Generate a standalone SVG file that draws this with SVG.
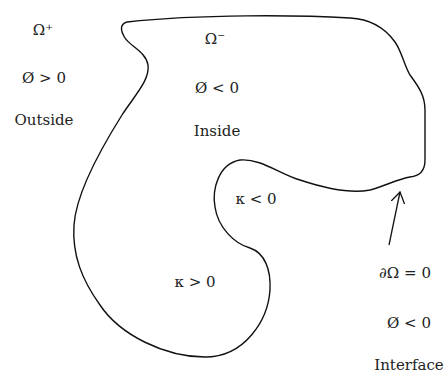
<svg xmlns="http://www.w3.org/2000/svg" width="446" height="374" viewBox="0 0 446 374">
<style>
.t{font-family:"DejaVu Serif","Liberation Serif",serif;font-size:15px;fill:#222;text-anchor:middle}
.o{fill:none;stroke:#111;stroke-width:1.4;stroke-linejoin:round}
</style>
<defs>
<marker id="ah" viewBox="0 0 12 14" refX="11" refY="7" markerWidth="12" markerHeight="14" markerUnits="userSpaceOnUse" orient="auto">
<path d="M0,0 L11,7 L0,14" fill="none" stroke="#111" stroke-width="1.3"/>
</marker>
</defs>
<rect width="446" height="374" fill="#fff"/>
<g id="region">
<path class="o" d="M127,22 C200,14 300,15 350,18 C370,19 385,28 395,42 C402,52 404,65 410,75 C418,86 425,95 425,110 L425,160 C425,170 421,176 410,177 C398,179 385,186 370,190 C355,193 330,190 300,180 C280,174 260,158 240,160 C218,164 212,190 215,207 C218,228 235,244 250,248 C265,253 271,270 270,290 C268,320 245,357 205,357 C165,357 120,335 100,305 C82,280 72,255 74,225 C76,195 100,150 122,115 C135,95 150,80 148,65 C146,52 130,46 125,38 C120,30 120,24 127,22 Z"/>
</g>
<g id="outside">
<text class="t" x="43" y="35">Ω⁺</text>
<text class="t" x="44" y="83">Ø &gt; 0</text>
<text class="t" x="44" y="125">Outside</text>
</g>
<g id="inside">
<text class="t" x="215" y="44">Ω⁻</text>
<text class="t" x="217" y="93">Ø &lt; 0</text>
<text class="t" x="217" y="136">Inside</text>
</g>
<g id="kneg"><text class="t" x="256" y="204">κ &lt; 0</text></g>
<g id="kpos"><text class="t" x="195" y="287">κ &gt; 0</text></g>
<g id="interface">
<text class="t" x="405" y="278">∂Ω = 0</text>
<text class="t" x="409" y="328">Ø &lt; 0</text>
<text class="t" x="409" y="370">Interface</text>
</g>
<g id="connectors">
<line x1="389" y1="245" x2="400" y2="192" stroke="#111" stroke-width="1.3" marker-end="url(#ah)"/>
</g>
</svg>
